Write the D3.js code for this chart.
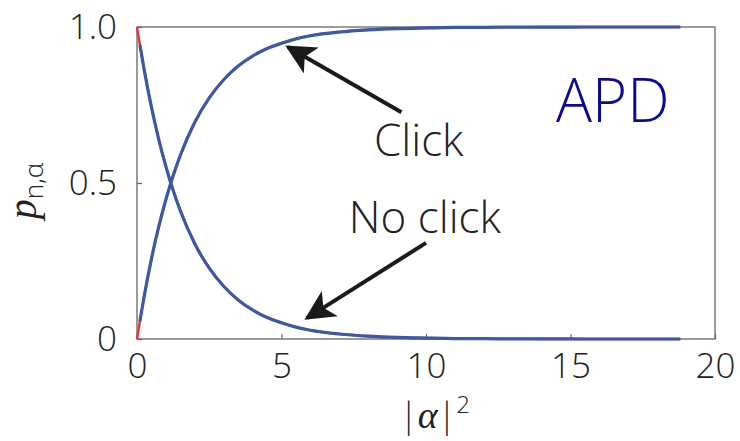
<!DOCTYPE html>
<html>
<head>
<meta charset="utf-8">
<script src="https://cdn.jsdelivr.net/npm/d3@7/dist/d3.min.js"></script>
<style>
  html, body { margin: 0; padding: 0; background: #fff; }
  svg text { font-family: "Open Sans", "DejaVu Sans", sans-serif; }
</style>
</head>
<body>
<svg id="chart" width="740" height="441"></svg>
<script>
// Mean photon number |alpha|^2 at the sampled points
const alphaSq = [0, 0.1, 0.25, 0.5, 0.75, 1, 1.25, 1.5, 2, 2.5, 3, 3.5, 4, 4.5, 5, 5.5, 6, 7, 8, 9, 10, 11, 12, 13, 14, 15, 16, 17, 18, 18.8];
// Probability of no click of the APD
const pNoClick = [1, 0.943, 0.862, 0.743, 0.641, 0.553, 0.477, 0.411, 0.305, 0.227, 0.169, 0.125, 0.093, 0.069, 0.052, 0.038, 0.028, 0.016, 0.009, 0.005, 0.003, 0.0015, 0.001, 0.0004, 0.0002, 0.0001, 0, 0, 0, 0];
// Probability of a click of the APD
const pClick = [0, 0.057, 0.138, 0.257, 0.359, 0.447, 0.523, 0.589, 0.695, 0.773, 0.831, 0.875, 0.907, 0.931, 0.948, 0.962, 0.972, 0.984, 0.991, 0.995, 0.997, 0.9985, 0.999, 0.9996, 0.9998, 0.9999, 1, 1, 1, 1];

const xTicks = [0, 5, 10, 15, 20];
const yTicks = [0, 0.5, 1.0];
const yTickLabels = ["0", "0.5", "1.0"];

// Annotation arrows: [tail, tip] in data units
const clickArrow = [[9.15, 0.727], [5.22, 0.936]];
const noClickArrow = [[10.0, 0.308], [5.88, 0.067]];

const svg = d3.select("#chart");
const margin = { left: 137, right: 25, top: 27, bottom: 102 };
const W = 740, H = 441;

const x = d3.scaleLinear().domain([0, 20]).range([margin.left, W - margin.right]);
const y = d3.scaleLinear().domain([0, 1]).range([H - margin.bottom, margin.top]);

const txtColor = "#222";
const serif = '"Liberation Serif", "DejaVu Serif", serif';

// Frame
svg.append("rect")
  .attr("x", x(0)).attr("y", y(1))
  .attr("width", x(20) - x(0)).attr("height", y(0) - y(1))
  .attr("fill", "none").attr("stroke", "#666").attr("stroke-width", 1.3);

// Inward ticks
const xAxis = d3.axisBottom(x).tickValues(xTicks).tickSize(-5).tickFormat(d => d).tickPadding(14);
const gx = svg.append("g").attr("transform", `translate(0,${y(0)})`).call(xAxis);
gx.select(".domain").remove();
gx.selectAll(".tick line").attr("stroke", "#666").attr("stroke-width", 1.2);
gx.selectAll(".tick text")
  .attr("fill", txtColor).attr("font-size", 35).attr("font-weight", 300)
  .attr("font-family", '"Open Sans", sans-serif');

const yAxis = d3.axisLeft(y).tickValues(yTicks).tickSize(-5)
  .tickFormat((d, i) => yTickLabels[i]).tickPadding(20);
const gy = svg.append("g").attr("transform", `translate(${x(0)},0)`).call(yAxis);
gy.select(".domain").remove();
gy.selectAll(".tick line").attr("stroke", "#666").attr("stroke-width", 1.2);
gy.selectAll(".tick text")
  .attr("fill", txtColor).attr("font-size", 35).attr("font-weight", 300)
  .attr("font-family", '"Open Sans", sans-serif');

// Curves: measured points in red underneath, fitted curve in blue
const line = d3.line().x(d => x(d[0])).y(d => y(d[1])).curve(d3.curveMonotoneX);
const noClickPts = alphaSq.map((a, i) => [a, pNoClick[i]]);
const clickPts = alphaSq.map((a, i) => [a, pClick[i]]);

[noClickPts, clickPts].forEach(pts => {
  svg.append("path").datum(pts).attr("d", line)
    .attr("fill", "none").attr("stroke", "#e8303a").attr("stroke-width", 2.4);
  svg.append("path").datum(pts.slice(1)).attr("d", line)
    .attr("fill", "none").attr("stroke", "#3a5aa6").attr("stroke-width", 3.2)
    .attr("stroke-linecap", "butt");
});

// Arrows
const defs = svg.append("defs");
defs.append("marker").attr("id", "arrowhead")
  .attr("viewBox", "0 0 10 10").attr("refX", 9).attr("refY", 5)
  .attr("markerWidth", 7.5).attr("markerHeight", 7.5)
  .attr("markerUnits", "strokeWidth")
  .attr("orient", "auto")
  .append("path").attr("d", "M0,0 L10,5 L0,10 L2.5,5 Z").attr("fill", "#1a1a1a");

[clickArrow, noClickArrow].forEach(a => {
  svg.append("line")
    .attr("x1", x(a[0][0])).attr("y1", y(a[0][1]))
    .attr("x2", x(a[1][0])).attr("y2", y(a[1][1]))
    .attr("stroke", "#1a1a1a").attr("stroke-width", 4)
    .attr("marker-end", "url(#arrowhead)");
});

// Annotation labels
svg.append("text").attr("x", x(8.2)).attr("y", y(0.585))
  .attr("font-size", 44).attr("font-weight", 300).attr("fill", txtColor)
  .text("Click");
svg.append("text").attr("x", x(7.33)).attr("y", y(0.34))
  .attr("font-size", 44).attr("font-weight", 300).attr("fill", txtColor)
  .text("No click");

svg.append("text").attr("x", x(14.5)).attr("y", y(0.695))
  .attr("font-size", 60).attr("font-weight", 300).attr("fill", "#0a0a96")
  .text("APD");

// Axis titles
const xl = svg.append("text").attr("x", x(10.3)).attr("y", 428)
  .attr("text-anchor", "middle").attr("fill", txtColor).attr("font-size", 34);
xl.append("tspan").attr("font-weight", 300).text("|");
xl.append("tspan").attr("font-family", serif)
  .attr("font-style", "italic").attr("font-size", 38).text("α");
xl.append("tspan").attr("font-weight", 300).text("|");
xl.append("tspan").attr("font-size", 24).attr("dy", -15).attr("font-weight", 300).text("2");

const yl = svg.append("text")
  .attr("transform", `translate(36,${y(0.5) + 8}) rotate(-90)`)
  .attr("text-anchor", "middle").attr("fill", txtColor).attr("font-size", 40);
yl.append("tspan").attr("font-family", serif)
  .attr("font-style", "italic").text("p");
yl.append("tspan").attr("font-size", 26).attr("dy", 7).attr("font-weight", 300).text("n,α");
</script>
</body>
</html>
